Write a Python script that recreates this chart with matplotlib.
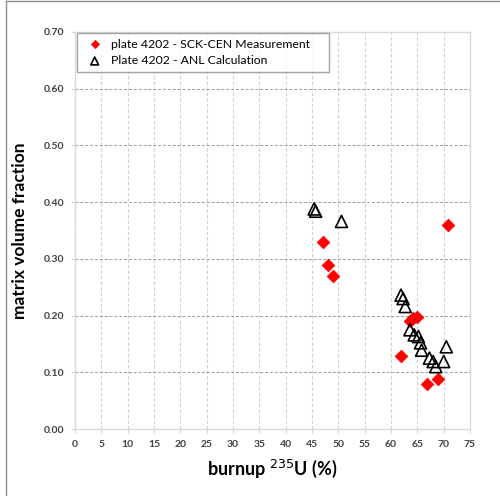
import matplotlib.pyplot as plt
from matplotlib.lines import Line2D

plt.rcParams['font.family'] = ['Lato', 'DejaVu Sans']

# SCK-CEN measurement (red diamonds)
meas_burnup = [47.0, 48.0, 49.0, 70.9, 63.6, 64.2, 64.9, 61.9, 66.9, 69.0]
meas_frac = [0.329, 0.289, 0.270, 0.360, 0.191, 0.195, 0.198, 0.129, 0.079, 0.089]

# ANL calculation (open triangles)
calc_burnup = [45.4, 45.7, 50.6, 61.9, 62.3, 62.7, 63.6, 64.4, 65.2, 65.6,
               65.8, 67.3, 68.0, 68.5, 70.0, 70.5]
calc_frac = [0.388, 0.384, 0.366, 0.236, 0.230, 0.216, 0.175, 0.166, 0.163, 0.152,
             0.139, 0.125, 0.119, 0.110, 0.119, 0.145]

x_ticks = list(range(0, 80, 5))
y_ticks = [0.0, 0.1, 0.2, 0.3, 0.4, 0.5, 0.6, 0.7]

fig = plt.figure(figsize=(5, 4.96), dpi=100)
ax = fig.add_axes([0.15, 0.135, 0.79, 0.8005])

# outer frame (left and top only)
fig.add_artist(Line2D([0.011, 0.011], [0, 0.998], transform=fig.transFigure,
                      color='#8c8c8c', lw=1.0))
fig.add_artist(Line2D([0.011, 1.0], [0.998, 0.998], transform=fig.transFigure,
                      color='#8c8c8c', lw=1.0))

ax.scatter(meas_burnup, meas_frac, marker='D', s=42, color='#ff0000',
           edgecolors='#ff0000', linewidths=0.5, zorder=3,
           label='plate 4202 - SCK-CEN Measurement')
ax.scatter(calc_burnup, calc_frac, marker='^', s=75, facecolors='none',
           edgecolors='black', linewidths=1.2, zorder=4,
           label='Plate 4202 - ANL Calculation')

ax.set_xlim(0, 75)
ax.set_ylim(0, 0.70)
ax.set_xticks(x_ticks)
ax.set_yticks(y_ticks)
ax.set_xticklabels([str(t) for t in x_ticks], fontsize=7.5, color='#404040',
                   fontweight='bold')
ax.set_yticklabels(['%.2f' % t for t in y_ticks], fontsize=7.5, color='#404040',
                   fontweight='bold')

ax.xaxis.grid(True, linestyle=(0, (3, 2)), color='#d0d0d0', lw=0.8)
ax.yaxis.grid(True, linestyle=(0, (3, 2)), color='#9a9a9a', lw=0.7)
ax.set_axisbelow(True)

for spine in ax.spines.values():
    spine.set_color('#d9d9d9')
    spine.set_linewidth(1.0)
ax.tick_params(axis='both', length=3, width=0.8, color='#d9d9d9', pad=5)

ax.set_xlabel('burnup $^{235}$U (%)', fontsize=13, fontweight='bold', labelpad=6)
ax.set_ylabel('matrix volume fraction', fontsize=12.5, fontweight='bold', labelpad=11)

leg = ax.legend(loc='upper left', bbox_to_anchor=(0.005, 0.0, 0.638, 0.997),
                mode='expand', fontsize=8.8,
                frameon=True, fancybox=False, edgecolor='#8c8c8c',
                handletextpad=0.3, handlelength=2.0, borderpad=0.45,
                labelspacing=0.45, borderaxespad=0, markerscale=0.65)
leg.get_frame().set_linewidth(1.0)

fig.savefig('out.png', dpi=100)
